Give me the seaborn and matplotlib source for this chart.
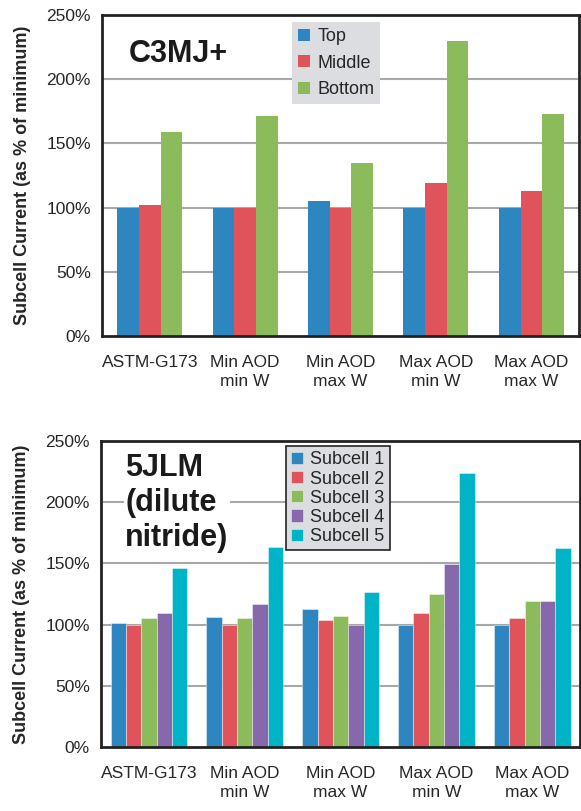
import pandas as pd
import matplotlib.pyplot as plt
import seaborn as sns
from matplotlib.ticker import PercentFormatter

conditions = ["ASTM-G173", "Min AOD\nmin W", "Min AOD\nmax W", "Max AOD\nmin W", "Max AOD\nmax W"]

# C3MJ+ subcells
top_cell = [100, 100, 105, 100, 100]
middle_cell = [102, 100, 100, 119, 113]
bottom_cell = [159, 171, 135, 230, 173]

# 5JLM subcells
sub1 = [101, 106, 113, 100, 100]
sub2 = [100, 100, 103.5, 109.5, 105.5]
sub3 = [105, 105, 107, 125, 119]
sub4 = [109.5, 116.5, 100, 149.5, 119]
sub5 = [146, 163.5, 127, 224, 162.5]

blue, red, green, purple, cyan = "#2e86c1", "#e0535b", "#8bbb5a", "#8569aa", "#00b4c8"

df1 = pd.DataFrame({"cond": conditions * 3,
                    "cell": ["Top"] * 5 + ["Middle"] * 5 + ["Bottom"] * 5,
                    "val": top_cell + middle_cell + bottom_cell})
df2 = pd.DataFrame({"cond": conditions * 5,
                    "cell": [f"Subcell {i}" for i in range(1, 6) for _ in range(5)],
                    "val": sub1 + sub2 + sub3 + sub4 + sub5})

sns.set_style("white")
plt.rcParams["font.family"] = ["Liberation Sans", "DejaVu Sans"]

fig = plt.figure(figsize=(5.81, 8.11), dpi=100)
ax1 = fig.add_axes([0.1756, 0.5857, 0.8210, 0.3958])
ax2 = fig.add_axes([0.1740, 0.0789, 0.8245, 0.3773])


def style(ax):
    ax.set_ylim(0, 250)
    ax.set_xlim(-0.5, 4.5)
    ax.set_yticks([0, 50, 100, 150, 200, 250])
    ax.yaxis.set_major_formatter(PercentFormatter(decimals=0))
    ax.set_xticks([-0.5, 0.5, 1.5, 2.5, 3.5, 4.5])
    ax.set_xticklabels([])
    ax.set_xticks(range(5), minor=True)
    ax.set_xticklabels(conditions, minor=True, fontsize=12.5, linespacing=1.3)
    ax.tick_params(axis="x", which="minor", length=0, pad=14)
    ax.tick_params(axis="x", which="major", length=6, width=1, color="#aaaaaa", direction="out")
    ax.tick_params(axis="y", length=5, width=1, color="#aaaaaa", direction="out", labelsize=12.5, pad=3)
    for y in [50, 100, 150, 200]:
        ax.axhline(y, color="#a8a8a8", lw=1.5, zorder=0)
    for s in ax.spines.values():
        s.set_visible(True)
        s.set_color("#222222")
        s.set_linewidth(2)
    ax.set_xlabel("")
    ax.set_ylabel("Subcell Current (as % of minimum)", fontsize=13, fontweight="bold", labelpad=11)


sns.barplot(data=df1, x="cond", y="val", hue="cell", ax=ax1, width=0.68, gap=0,
            palette=[blue, red, green], linewidth=0, saturation=1, zorder=2)
sns.barplot(data=df2, x="cond", y="val", hue="cell", ax=ax2, width=0.8, gap=0,
            palette=[blue, red, green, purple, cyan], linewidth=0.6, edgecolor="#ffffff80",
            saturation=1, zorder=2)

style(ax1)
style(ax2)

leg1 = ax1.legend(loc="upper left", bbox_to_anchor=(0.398, 0.978), fontsize=13, frameon=True,
                  fancybox=False, handlelength=0.65, handleheight=0.65, handletextpad=0.4,
                  labelspacing=0.52, borderpad=0.35, borderaxespad=0, title=None)
leg1.get_frame().set_facecolor("#dcdde0")
leg1.get_frame().set_edgecolor("none")
leg1.get_frame().set_alpha(1)

leg2 = ax2.legend(loc="upper left", bbox_to_anchor=(0.386, 0.984), fontsize=13, frameon=True,
                  fancybox=False, handlelength=0.65, handleheight=0.65, handletextpad=0.4,
                  labelspacing=0.12, borderpad=0.3, borderaxespad=0, title=None)
leg2.get_frame().set_facecolor("#dcdde0")
leg2.get_frame().set_edgecolor("#222222")
leg2.get_frame().set_linewidth(1.2)
leg2.get_frame().set_alpha(1)

ax1.text(0.055, 0.88, "C3MJ+", transform=ax1.transAxes, fontsize=22, fontweight="bold",
         va="center", ha="left", color="#1a1a1a")
ax2.text(0.05, 0.962, "5JLM\n(dilute\nnitride)", transform=ax2.transAxes, fontsize=22,
         fontweight="bold", va="top", ha="left", color="#1a1a1a", linespacing=1.22,
         bbox=dict(facecolor="white", edgecolor="none", pad=1), zorder=3)

fig.savefig("out.png", dpi=100)
